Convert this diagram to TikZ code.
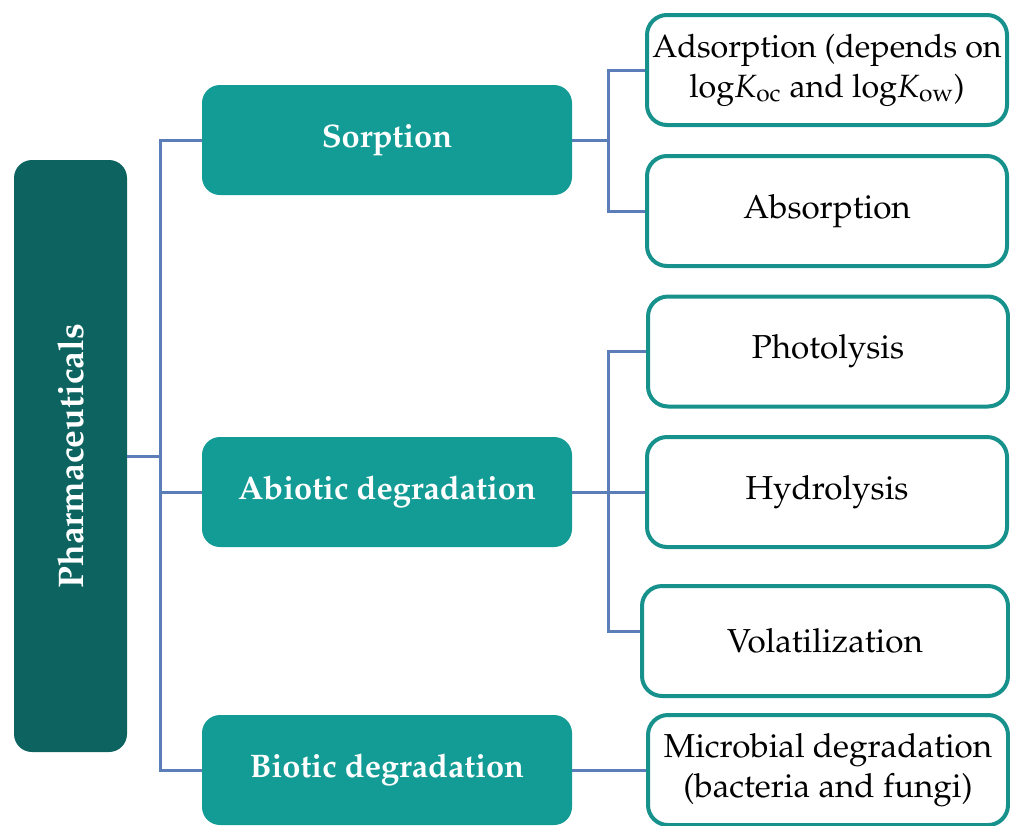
\documentclass[tikz,border=0pt]{standalone}
\usepackage[T1]{fontenc}
\usepackage{mathpazo}
\definecolor{darkteal}{HTML}{0C6360}
\definecolor{midteal}{HTML}{139B95}
\definecolor{edgeteal}{HTML}{16918C}
\definecolor{linkblue}{HTML}{5B7EB8}
\begin{document}
\begin{tikzpicture}[x=0.5pt,y=-0.5pt]
\tikzstyle{every node}=[inner sep=0pt,align=center,font=\fontsize{16.6}{20}\selectfont]
\tikzstyle{root}=[rectangle,rounded corners=9pt,fill=darkteal,text=white,minimum width=56.5pt,minimum height=296pt,font=\fontsize{17.8}{20}\selectfont\bfseries]
\tikzstyle{cat}=[rectangle,rounded corners=9pt,fill=midteal,text=white,minimum width=185pt,minimum height=55pt,font=\fontsize{16.3}{20}\selectfont\bfseries]
\tikzstyle{leaf}=[rectangle,rounded corners=10pt,draw=edgeteal,line width=2pt,fill=white,minimum width=180pt,minimum height=55pt]
\tikzstyle{link}=[draw=linkblue,line width=1.5pt]
\useasboundingbox (0,0) rectangle (1010,825);
% root and categories
\node[root](c0) at (70.5,456) {\rotatebox{90}{Pharmaceuticals}};
\node[cat](c1) at (387,140) {Sorption};
\node[cat](c2) at (387,492) {Abiotic degradation};
\node[cat](c3) at (387,770) {Biotic degradation};
% processes
\node[leaf,font=\fontsize{16.1}{20}\selectfont](r11) at (827,70) {Adsorption (depends on\\log$K_{\mathrm{oc}}$ and log$K_{\mathrm{ow}}$)};
\node[leaf](r12) at (827,211) {Absorption};
\node[leaf](r21) at (828,351.5) {Photolysis};
\node[leaf](r22) at (827,492) {Hydrolysis};
\node[leaf,minimum width=183pt](r23) at (825,641) {Volatilization};
\node[leaf](r31) at (828,770) {Microbial degradation\\(bacteria and fungi)};
% junctions
\coordinate (j0) at (160,456);
\coordinate (j1) at (608,140);
\coordinate (j2) at (608,492);
\draw[link] (c0.east) -- (j0);
\draw[link] (c1.west) -| (j0) |- (c3.west);
\draw[link] (j0) |- (c2.west);
\draw[link] (c1.east) -- (j1);
\draw[link] (r11.west) -| (j1) |- (r12.west);
\draw[link] (c2.east) -- (r22.west);
\draw[link] (r21.west) -| (j2) |- ([yshift=5pt]r23.west);
\draw[link] (c3.east) -- (r31.west);
\end{tikzpicture}
\end{document}
